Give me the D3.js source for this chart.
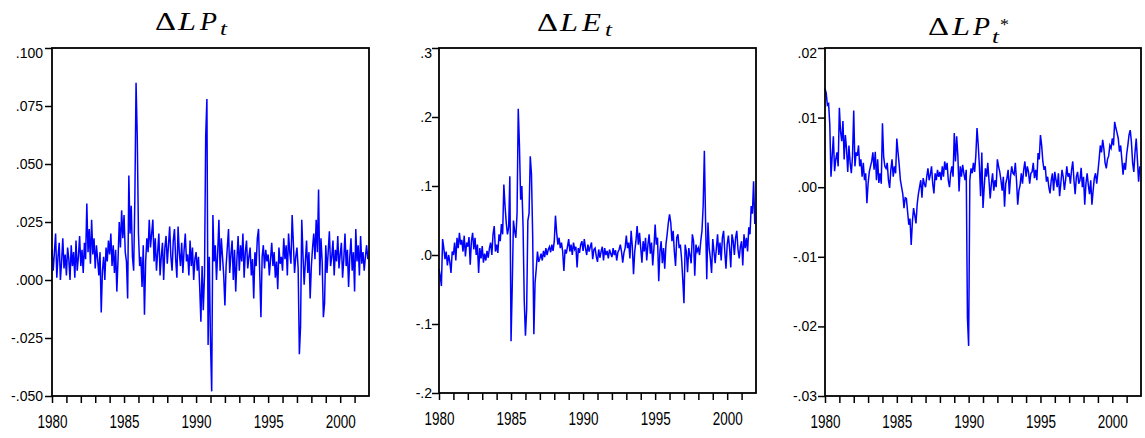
<!DOCTYPE html>
<html>
<head>
<meta charset="utf-8">
<script src="https://cdn.jsdelivr.net/npm/d3@7"></script>
<style>
body { margin: 0; background: #fff; }
.tick text { font-family: "Liberation Sans", Arial, sans-serif; fill: #000; }
.title { font-family: "Liberation Serif", "Times New Roman", serif; fill: #000; }
</style>
</head>
<body>
<svg id="chart" width="1145" height="438"></svg>
<script>
// monthly observations 1980:01 - 2001:12
var years = d3.range(1980, 2002)
var xTicks = d3.range(1980, 2002)
var xLabels = [1980, 1985, 1990, 1995, 2000]

var dLP = [
  .013,.004,.012,.020,.001,.010,.016,.000,.008,.018,.005,.011, // 1980
  .002,.014,.009,.000,.015,.006,.012,.001,.017,.004,.010,.019,
  .006,.013,.003,.016,.009,.033,.012,.022,.007,.026,.011,.018,
  .005,.015,.009,.002,.012,-.014,.004,.010,.000,.014,.008,.017,
  .011,.020,.006,.015,.003,.013,-.005,.009,.025,.014,.030,.018,
  .028,.012,.008,-.008,.045,.020,.032,.010,.004,.035,.085,.062, // 1985
  .020,.006,.010,-.003,.015,-.015,.008,.018,.012,.026,.014,.020,
  .026,.008,.018,.004,.012,.020,.002,.010,.016,.000,.014,.019,
  .007,.015,.023,.010,.004,.017,.022,.009,.001,.023,.012,.006,
  .016,.003,.013,.020,.008,.011,.002,.017,.006,.014,.000,.009,
  .012,.004,.010,-.003,-.018,.006,-.013,.002,.062,.078,-.028,.010, // 1990
  -.027,-.048,.028,.008,.015,.000,.012,.026,.004,.018,.010,.002,
  -.011,.006,.014,.022,.003,.011,.017,.000,.013,-.005,.009,.019,
  .004,.015,.008,.020,.001,.012,.017,.005,.010,.014,.002,.009,
  -.008,.012,.006,.018,.022,.003,-.016,.010,.015,.005,.013,.008,
  .011,.002,.009,.016,.006,.012,.001,.008,-.004,.014,.007,.010, // 1995
  .004,.018,.009,.015,.002,.020,.012,.007,.028,.016,.003,.010,
  .014,.005,-.032,-.020,.026,.011,-.002,.008,.017,.003,.012,-.008,
  .006,.014,.020,.009,.026,.012,.039,.002,.018,.008,-.016,-.010,
  .015,.003,.012,.021,.006,.010,.017,.002,.013,.008,.019,.005,
  .011,.016,.001,.009,.020,.006,.013,-.003,.010,.018,.004,.012, // 2000
  -.005,.022,.008,.015,.002,.019,.007,.012,.004,.010,.015,.009
]

var dLE = [
  -.020,-.030,-.045,.023,.010,-.006,.005,-.015,.000,-.010,-.026,.005, // 1980
  .000,.018,-.008,.025,.010,.032,.015,.022,.005,.028,-.002,.018,
  .012,.026,-.014,.020,.032,.008,.025,.000,.015,-.026,.010,-.005,
  .013,-.011,.002,-.008,.006,-.004,.010,.018,.000,.030,.042,.005,
  .015,.003,.030,.020,.045,.030,.102,.071,.047,.030,.040,.114,
  -.125,-.045,.050,.035,.025,.060,.212,.158,.080,.100,.042,-.067, // 1985
  -.117,-.079,.050,.060,.143,.117,.030,-.115,-.040,-.020,.005,-.010,
  -.005,.002,-.008,.006,-.003,.010,.000,.008,.012,.004,.015,.006,
  .020,.057,.032,.015,.025,.010,.018,.005,-.023,.008,.002,.012,
  .023,.005,.015,.000,.018,.008,.012,-.018,.010,.003,.015,.020,
  .006,.023,.010,.000,.015,.005,.012,.018,-.006,.008,.010,-.002, // 1990
  -.010,.008,-.004,.005,.012,-.008,.010,.000,.006,-.005,.008,.002,
  -.003,.010,.000,.007,-.008,.004,.008,.015,.005,-.011,.003,.010,
  .028,.010,.018,-.005,.035,.012,-.028,.005,.020,.042,.015,.032,
  .010,-.011,.020,.005,.025,-.008,.015,.030,.002,.018,-.015,.010,
  .044,.015,.025,-.038,.005,.020,-.012,.010,-.020,.015,.030,.047, // 1995
  .059,.047,.020,.035,.005,-.016,.025,.030,.010,.015,-.005,-.035,
  -.070,.015,.005,-.025,.010,.000,-.012,.030,.020,-.030,.015,.005,
  .010,.000,.020,.035,.071,.151,.049,-.035,.047,.010,-.005,-.026,
  .023,.005,-.012,.010,.030,.000,.018,-.008,.025,.035,.005,-.020,
  .015,.028,.010,-.018,.030,.020,.000,.025,.035,.008,-.005,.012, // 2000
  .020,-.015,.030,.010,.025,.005,.040,.030,.071,.060,.107,.045
]

var dLPstar = [
  .0142,.0135,.0118,.0120,.0090,.0015,.0045,.0073,.0023,.0040,.0050,.0030, // 1980
  .0114,.0080,.0066,.0095,.0040,.0075,.0055,.0022,.0060,.0035,.0020,.0045,
  .0110,.0030,.0050,.0045,.0060,.0030,.0040,.0015,.0035,.0010,.0020,-.0023,
  .0005,.0022,.0030,.0037,.0050,.0025,.0051,.0010,.0040,.0006,.0020,.0005,
  .0092,.0044,.0030,.0027,.0035,.0010,-.0001,.0025,.0040,.0015,.0030,.0020,
  .0070,.0050,.0032,.0010,.0000,-.0010,-.0030,-.0015,-.0016,-.0035,-.0054,-.0045, // 1985
  -.0083,-.0050,-.0030,-.0040,-.0052,-.0025,-.0010,.0000,.0010,-.0015,.0013,.0005,
  .0000,.0015,.0027,.0010,.0018,.0030,.0005,-.0009,.0020,.0010,.0025,.0015,
  .0022,.0010,.0030,.0015,.0037,.0025,.0035,.0010,.0000,.0020,.0030,.0015,
  .0078,.0037,.0073,.0045,-.0006,.0030,.0015,.0032,.0020,.0010,.0025,-.0188,
  -.0228,.0010,.0027,.0020,.0035,.0022,.0045,.0085,.0061,.0030,-.0013,.0050, // 1990
  -.0030,.0000,.0027,.0015,.0035,.0010,-.0016,.0005,.0020,-.0005,.0010,.0000,
  .0040,.0030,.0022,.0010,-.0005,.0015,-.0028,.0005,.0013,.0025,-.0010,.0015,
  .0030,.0020,.0018,.0035,.0010,-.0025,-.0005,.0003,.0020,.0005,.0025,.0037,
  .0015,.0030,.0022,.0005,.0020,.0022,.0035,.0013,.0025,.0010,.0049,.0040,
  .0075,.0060,.0037,.0025,.0030,.0008,.0015,.0000,-.0009,.0010,.0020,-.0005, // 1995
  .0022,.0010,.0000,.0020,-.0013,.0005,.0025,.0015,-.0004,.0010,.0030,.0015,
  .0020,.0005,.0025,.0037,.0010,-.0010,.0015,.0022,.0005,.0010,.0028,.0000,
  .0015,-.0025,.0005,.0020,.0003,-.0010,.0010,-.0025,-.0005,.0013,.0020,.0005,
  .0022,.0040,.0060,.0050,.0068,.0055,.0035,.0027,.0040,.0045,.0060,.0056,
  .0070,.0060,.0094,.0085,.0078,.0070,.0051,.0060,.0040,.0018,.0035,.0025, // 2000
  .0047,.0060,.0075,.0082,.0065,.0035,.0022,.0050,.0070,.0040,.0008,.0030
]

var ticksLP = [.1, .075, .05, .025, 0, -.025, -.05]
var ticksLE = [.3, .2, .1, 0, -.1, -.2]
var ticksLPstar = [.02, .01, 0, -.01, -.02, -.03]

var dates = []
years.forEach(function(y) {
  for (var m = 0; m < 12; m++) dates.push(y + m / 12)
})

// layout of the three panels; title parts: [glyph, x, kind, width]
var panels = [
  { data: dLP, ticks: ticksLP, digits: 3, box: [52, 48, 369, 396], pad: 2,
    title: { base: 30, sub: 5, parts: [["Δ", 155, "n", 21], ["L", 178, "i", 18], ["P", 200, "i", 17], ["t", 220, "sub", 7]] } },
  { data: dLE, ticks: ticksLE, digits: 1, box: [439, 48, 756, 393], pad: 0,
    title: { base: 31, sub: 5, parts: [["Δ", 537, "n", 21], ["L", 560, "i", 18], ["E", 582, "i", 19], ["t", 605, "sub", 7]] } },
  { data: dLPstar, ticks: ticksLPstar, digits: 2, box: [825, 48, 1141, 396], pad: 1,
    title: { base: 35, sub: 8, parts: [["Δ", 928, "n", 21], ["L", 952, "i", 18], ["P", 973, "i", 17], ["t", 992, "sub", 7], ["*", 1000, "sup", 9]] } }
]

var svg = d3.select("#chart")

panels.forEach(function(p) {
  var left = p.box[0], top = p.box[1], right = p.box[2], bottom = p.box[3]
  var x = d3.scaleLinear().domain([1980, 2002]).range([left, right])
  var y = d3.scaleLinear().domain([p.ticks[p.ticks.length - 1], p.ticks[0]]).range([bottom, top])
  var fmt = function(v) {
    return (v < 0 ? "-" : "") + Math.abs(v).toFixed(p.digits).replace(/^0/, "")
  }

  var g = svg.append("g")

  var line = d3.line()
    .x(function(d, i) { return x(dates[i]) })
    .y(function(d) { return y(d) })

  g.append("path")
    .datum(p.data)
    .attr("fill", "none")
    .attr("stroke", "#0000ff")
    .attr("stroke-width", 1.5)
    .attr("d", line)

  g.append("rect")
    .attr("x", left).attr("y", top)
    .attr("width", right - left).attr("height", bottom - top)
    .attr("fill", "none")
    .attr("stroke", "#000")
    .attr("stroke-width", 1.8)

  var ya = g.append("g")
    .attr("transform", "translate(" + left + ",0)")
    .call(d3.axisLeft(y).tickValues(p.ticks).tickSize(7).tickPadding(p.pad).tickFormat(fmt))
  ya.select(".domain").remove()
  ya.selectAll(".tick line").attr("stroke-width", 1.5)
  ya.selectAll(".tick text").attr("font-size", 14)
    .filter(function(d) { return d === p.ticks[0] }).attr("y", 5)

  var xa = g.append("g")
    .attr("transform", "translate(0," + bottom + ")")
    .call(d3.axisBottom(x).tickValues(xTicks).tickSize(7)
      .tickFormat(function(d) { return xLabels.indexOf(d) >= 0 ? d : "" }))
  xa.select(".domain").remove()
  xa.selectAll(".tick line").attr("stroke-width", 1.5)
  xa.selectAll(".tick text")
    .attr("font-size", 18)
    .attr("y", 32).attr("dy", 0)
    .filter(function(d) { return xLabels.indexOf(d) >= 0 })
    .attr("textLength", 30)
    .attr("lengthAdjust", "spacingAndGlyphs")

  // title, glyph by glyph
  p.title.parts.forEach(function(t) {
    var txt = g.append("text").attr("class", "title").attr("x", t[1]).text(t[0])
      .attr("textLength", t[3]).attr("lengthAdjust", "spacingAndGlyphs")
    if (t[2] === "n") txt.attr("y", p.title.base).attr("font-size", 26)
    else if (t[2] === "i") txt.attr("y", p.title.base).attr("font-size", 26).attr("font-style", "italic")
    else if (t[2] === "sub") txt.attr("y", p.title.base + p.title.sub).attr("font-size", 18).attr("font-style", "italic")
    else txt.attr("y", p.title.base - 5).attr("font-size", 16)
  })
})
</script>
</body>
</html>
